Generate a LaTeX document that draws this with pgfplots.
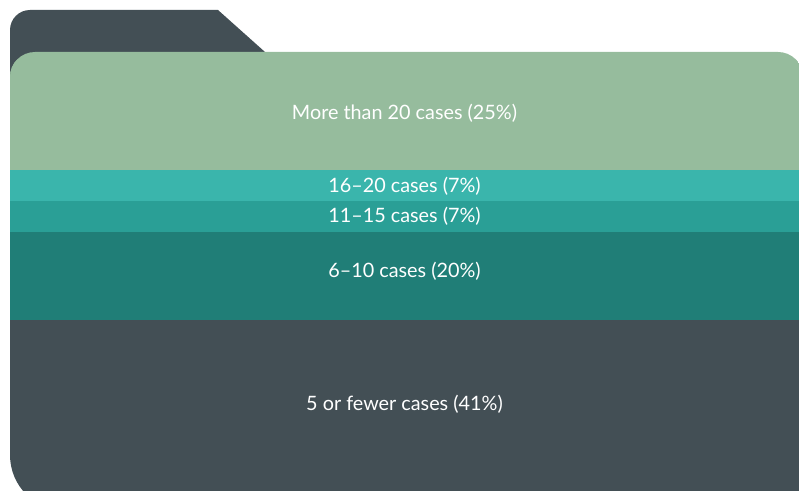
\documentclass[border=0pt]{standalone}
\usepackage{pgfplots}
\pgfplotsset{compat=1.18}
\usepackage{fontspec}
\setmainfont{Lato}
\definecolor{cgreen}{HTML}{96BC9D}
\definecolor{cltteal}{HTML}{3AB5AC}
\definecolor{cteal}{HTML}{2A9F96}
\definecolor{cdkteal}{HTML}{207E77}
\definecolor{cslate}{HTML}{434F55}
\begin{document}
\begin{tikzpicture}[x=1pt,y=1pt]
\useasboundingbox (0,0) rectangle (799,491);
% back tab of the folder
\fill[cslate] (10,300) -- (10,461) arc[start angle=180,end angle=90,radius=20] -- (218,481) -- (265,439) -- (265,300) -- cycle;
\begin{scope}
\clip (10,36) -- (10,414) arc[start angle=180,end angle=90,radius=25] -- (778,439) arc[start angle=90,end angle=0,radius=25] -- (803,-20) -- (66,-20) arc[start angle=270,end angle=180,radius=56] -- cycle;
\fill[cgreen] (0,400) rectangle (810,491);
\begin{axis}[
  at={(0pt,0pt)}, anchor=south west,
  width=799pt, height=491pt, scale only axis,
  xmin=0, xmax=799, ymin=2.24, ymax=113.53,
  hide axis, stack plots=y, area style,
]
\addplot[fill=cslate, draw=none] coordinates {(0,41) (799,41)} \closedcycle;
\addplot[fill=cdkteal, draw=none] coordinates {(0,20) (799,20)} \closedcycle;
\addplot[fill=cteal, draw=none] coordinates {(0,7) (799,7)} \closedcycle;
\addplot[fill=cltteal, draw=none] coordinates {(0,7) (799,7)} \closedcycle;
\addplot[fill=cgreen, draw=none] coordinates {(0,25) (799,25)} \closedcycle;
\coordinate (l1) at (axis cs:404.5,87.9);
\coordinate (l2) at (axis cs:404.5,71.4);
\coordinate (l3) at (axis cs:404.5,64.6);
\coordinate (l4) at (axis cs:404.5,52.1);
\coordinate (l5) at (axis cs:404.5,22.0);
\end{axis}
\end{scope}
\begin{scope}[every node/.style={font=\fontsize{19.8}{22}\selectfont, text=white}]
\node at (l1) {More than 20 cases (25\%)};
\node at (l2) {16–20 cases (7\%)};
\node at (l3) {11–15 cases (7\%)};
\node at (l4) {6–10 cases (20\%)};
\node at (l5) {5 or fewer cases (41\%)};
\end{scope}
\end{tikzpicture}
\end{document}
